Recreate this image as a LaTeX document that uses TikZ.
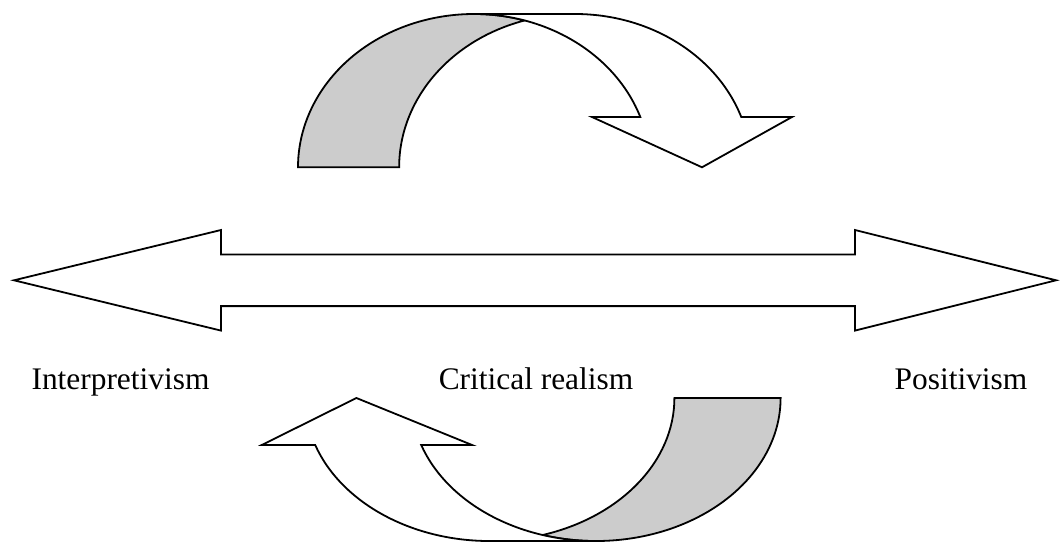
\documentclass[tikz,border=0pt]{standalone}
\usepackage{fontspec}
\setmainfont{Liberation Serif}
\definecolor{backgray}{HTML}{CCCCCC}

\begin{document}
\begin{tikzpicture}[x=1pt, y=1pt,
  blk/.style={draw=black, fill=white, line width=1.8pt},
  back/.style={blk, fill=backgray},
  lbl/.style={font=\fontsize{31.4}{37}\selectfont, anchor=base, inner sep=0pt},
  bentarrow/.pic={
    % shaded back part
    \draw[back] (298,374.7)
      arc[start angle=180, end angle=73.3, x radius=176, y radius=153.3]
      arc[start angle=106.7, end angle=180, x radius=176, y radius=153.3] -- cycle;
    % front part with head
    \draw[blk] (474,528) -- (575,528)
      arc[start angle=90, end angle=19.15, x radius=176, y radius=153.3]
      -- (792,425) -- (702,374.7) -- (592,425) -- (640.3,425)
      arc[start angle=19.15, end angle=90, x radius=176, y radius=153.3] -- cycle;
  }
]
  \useasboundingbox (0,0) rectangle (1062,542);

  \pic at (0,0) {bentarrow};
  \pic[xscale=-1.05, yscale=-0.933] at (1093.5,493.6) {bentarrow};

  % double block arrow
  \draw[blk] (14,261.7) -- (221,312) -- (221,287.5) -- (855,287.5)
    -- (855,312) -- (1056,261.7) -- (855,211.4) -- (855,235.9)
    -- (221,235.9) -- (221,211.4) -- cycle;

  \node[lbl] (interp) at (120.5,153) {Interpretivism};
  \node[lbl] (critical) at (536,153) {Critical realism};
  \node[lbl] (posit) at (961,153) {Positivism};
\end{tikzpicture}
\end{document}
